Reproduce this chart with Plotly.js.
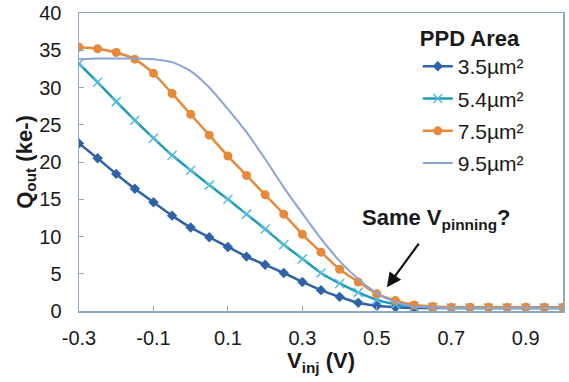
<!DOCTYPE html>
<html><head><meta charset="utf-8">
<script src="https://cdn.plot.ly/plotly-3.0.1.min.js"></script>
<style>html,body{margin:0;padding:0;background:#fff;}#chart{width:569px;height:382px;}</style>
</head><body><div id="chart"></div>
<script>
const vinj = [-0.3,-0.25,-0.2,-0.15,-0.1,-0.05,0,0.05,0.1,0.15,0.2,0.25,0.3,0.35,0.4,0.45,0.5,0.55,0.6,0.65,0.7,0.75,0.8,0.85,0.9,0.95,1.0];
const seriesNames = ["3.5µm²","5.4µm²","7.5µm²","9.5µm²"];
const q35 = [22.5,20.5,18.4,16.4,14.6,12.8,11.2,9.9,8.6,7.3,6.2,5.1,3.9,2.8,1.9,1.1,0.7,0.5,0.4,0.4,0.4,0.4,0.4,0.4,0.4,0.4,0.4];
const q54 = [33.2,30.7,28.1,25.6,23.2,20.9,18.9,16.9,15.0,13.0,11.0,8.9,7.0,5.1,3.7,2.5,1.5,0.9,0.6,0.5,0.4,0.4,0.4,0.4,0.4,0.4,0.4];
const q75 = [35.4,35.2,34.7,33.8,31.9,29.2,26.4,23.6,20.8,18.2,15.6,13.0,10.3,7.9,5.6,3.9,2.3,1.4,0.8,0.6,0.5,0.5,0.5,0.5,0.5,0.5,0.5];
const q95 = [33.8,33.9,33.9,33.9,33.8,33.4,32.2,30.0,27.1,24.0,20.4,16.6,13.1,9.7,6.7,4.3,2.4,1.2,0.6,0.5,0.4,0.4,0.4,0.4,0.4,0.4,0.4];
const xTicks = [-0.3,-0.1,0.1,0.3,0.5,0.7,0.9];
const xTickText = ["-0.3","-0.1","0.1","0.3","0.5","0.7","0.9"];

const F = "Liberation Sans, Arial, sans-serif";
const traces = [
  {x: vinj, y: q35, name: seriesNames[0], legendgroup: "a", mode: "lines+markers",
   line: {color: "#2f63a6", width: 2.5, shape: "spline", smoothing: 0.6},
   marker: {symbol: "diamond", size: 8, color: "#2f63a6"}},
  {x: vinj, y: q54, name: seriesNames[1], legendgroup: "b", mode: "lines+markers",
   line: {color: "#1f9bb8", width: 2.5, shape: "spline", smoothing: 0.6},
   marker: {symbol: "x-thin-open", size: 9, color: "#55bde0", line: {color: "#55bde0", width: 1.5}}},
  {x: vinj, y: q75, name: seriesNames[2], legendgroup: "c", mode: "lines+markers",
   line: {color: "#e8893a", width: 2.5, shape: "spline", smoothing: 0.6},
   marker: {symbol: "circle", size: 9, color: "#e8893a"}},
  {x: vinj, y: q95, name: seriesNames[3], legendgroup: "d", mode: "lines",
   line: {color: "#88a4da", width: 2, shape: "spline", smoothing: 0.6}}
];

const layout = {
  width: 569, height: 382,
  margin: {l: 79, r: 6, t: 13, b: 71},
  paper_bgcolor: "#fff", plot_bgcolor: "#fff",
  font: {family: F, size: 20, color: "#1a1a1a"},
  showlegend: true,
  legend: {x: 0.70, y: 0.985, xanchor: "left", yanchor: "top",
    bgcolor: "rgba(255,255,255,0)", font: {family: F, size: 21, color: "#1a1a1a"},
    title: {text: "<b>PPD Area</b>", font: {family: F, size: 22, color: "#1a1a1a"}},
    tracegroupgap: 2},
  xaxis: {range: [-0.3, 1.0], tickvals: xTicks, ticktext: xTickText,
    ticks: "inside", ticklen: 5, tickcolor: "#8fa9c4", ticklabelstandoff: 8,
    showline: true, linecolor: "#8fa9c4", linewidth: 1.5, mirror: true,
    showgrid: false, zeroline: false,
    tickfont: {family: F, size: 20, color: "#1a1a1a"},
    title: {text: "<b>V<sub>inj</sub> (V)</b>", font: {family: F, size: 22, color: "#1a1a1a"}, standoff: 2}},
  yaxis: {range: [0, 40], dtick: 5, tick0: 0,
    ticks: "inside", ticklen: 5, tickcolor: "#8fa9c4", ticklabelstandoff: 12,
    showline: true, linecolor: "#8fa9c4", linewidth: 1.5, mirror: true,
    showgrid: false, zeroline: false,
    tickfont: {family: F, size: 20, color: "#1a1a1a"},
    title: {text: "<b>Q<sub>out</sub> (ke-)</b>", font: {family: F, size: 22, color: "#1a1a1a"}, standoff: 0}},
  annotations: [
    {x: 0.66, y: 12.4, xref: "x", yref: "y", showarrow: false,
     text: "<b>Same V<sub>pinning</sub>?</b>", font: {family: F, size: 22, color: "#1a1a1a"}},
    {x: 0.527, y: 3.2, xref: "x", yref: "y", text: "", showarrow: true,
     ax: 33, ay: -45, arrowhead: 2, arrowsize: 1.3, arrowwidth: 2.2, arrowcolor: "#111"}
  ]
};
Plotly.newPlot("chart", traces, layout, {displayModeBar: false, staticPlot: true});
</script></body></html>
